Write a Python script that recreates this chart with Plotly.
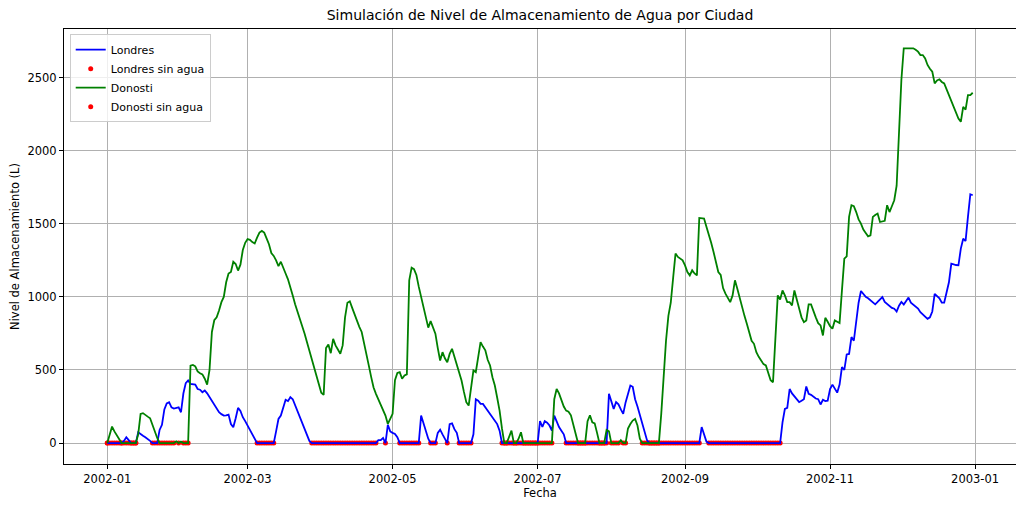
import pandas as pd
import plotly.graph_objects as go

fechas = pd.date_range("2002-01-01", periods=365, freq="D")

londres = [
    0, 0, 0, 0, 0, 0, 0, 15, 40, 20,
    0, 0, 0, 74, 60, 50, 40, 30, 15, 0,
    0, 0, 90, 125, 230, 272, 280, 245, 236, 240,
    245, 211, 339, 410, 428, 405, 400, 400, 370, 365,
    348, 360, 340, 315, 291, 265, 240, 211, 198, 188,
    190, 195, 130, 108, 170, 241, 220, 177, 150, 120,
    90, 60, 30, 0, 0, 0, 0, 0, 0, 0,
    0, 80, 165, 188, 240, 296, 287, 314, 300, 260,
    222, 180, 140, 100, 55, 15, 0, 0, 0, 0,
    0, 0, 0, 0, 0, 0, 0, 0, 0, 0,
    0, 0, 0, 0, 0, 0, 0, 0, 0, 0,
    0, 0, 0, 0, 20, 20, 35, 0, 125, 80,
    70, 63, 40, 0, 0, 0, 0, 0, 0, 0,
    0, 0, 188, 130, 70, 30, 0, 0, 0, 70,
    92, 60, 25, 0, 130, 135, 95, 70, 0, 0,
    0, 0, 0, 0, 60, 300, 290, 268, 268, 245,
    222, 205, 175, 150, 130, 85, 0, 0, 0, 0,
    0, 0, 0, 0, 0, 0, 0, 0, 0, 0,
    0, 0, 150, 110, 150, 140, 120, 85, 188, 150,
    110, 85, 60, 0, 0, 0, 0, 0, 0, 0,
    0, 0, 0, 0, 0, 0, 0, 0, 0, 0,
    0, 337, 280, 234, 280, 265, 230, 200, 278, 330,
    394, 385, 300, 250, 190, 140, 80, 20, 0, 0,
    0, 0, 0, 0, 0, 0, 0, 0, 0, 0,
    0, 0, 0, 0, 0, 0, 0, 0, 0, 0,
    110, 60, 10, 0, 0, 0, 0, 0, 0, 0,
    0, 0, 0, 0, 0, 0, 0, 0, 0, 0,
    0, 0, 0, 0, 0, 0, 0, 0, 0, 0,
    0, 0, 0, 0, 142, 234, 241, 370, 340, 318,
    302, 280, 290, 300, 387, 337, 330, 315, 305, 300,
    264, 296, 287, 290, 370, 400, 370, 345, 400, 519,
    500, 606, 610, 725, 700, 839, 960, 1040, 1020, 1000,
    990, 976, 960, 949, 965, 985, 999, 965, 950, 935,
    925, 919, 900, 940, 965, 948, 975, 995, 960, 945,
    930, 920, 895, 880, 860, 850, 860, 900, 1020, 1005,
    990, 960, 960, 1030, 1100, 1227, 1220, 1218, 1216, 1330,
    1398, 1382, 1547, 1702, 1695,
]

donosti = [
    0, 50, 113, 80, 51, 20, 0, 0, 0, 0,
    0, 0, 0, 60, 200, 205, 190, 181, 170, 120,
    80, 35, 0, 0, 0, 0, 0, 0, 0, 12,
    0, 10, 0, 0, 0, 530, 535, 525, 490, 478,
    470, 440, 400, 500, 760, 840, 860, 907, 964, 1000,
    1100, 1160, 1170, 1240, 1225, 1180, 1220, 1320, 1370, 1395,
    1390, 1375, 1365, 1405, 1440, 1451, 1440, 1400, 1360, 1300,
    1280, 1250, 1210, 1240, 1205, 1160, 1120, 1070, 1010, 950,
    900, 860, 800, 748, 690, 634, 560, 505, 460, 400,
    345, 330, 650, 675, 615, 713, 668, 640, 611, 668,
    860, 960, 970, 925, 880, 830, 795, 760, 690, 611,
    530, 451, 380, 337, 300, 268, 230, 188, 131, 170,
    200, 430, 480, 485, 440, 462, 470, 1113, 1200, 1190,
    1150, 1070, 1000, 940, 860, 790, 834, 790, 748, 650,
    565, 622, 580, 553, 610, 645, 590, 542, 470, 428,
    350, 280, 257, 370, 497, 485, 590, 690, 660, 634,
    570, 531, 450, 394, 310, 222, 100, 0, 0, 40,
    85, 0, 0, 30, 74, 0, 0, 0, 0, 0,
    0, 0, 0, 0, 0, 0, 0, 0, 300, 370,
    340, 290, 250, 222, 215, 190, 120, 50, 0, 0,
    0, 0, 150, 190, 142, 135, 70, 0, 0, 0,
    90, 80, 0, 0, 0, 0, 20, 0, 0, 100,
    130, 154, 165, 120, 30, 0, 0, 0, 0, 0,
    0, 0, 0, 200, 480, 700, 870, 960, 1130, 1296,
    1273, 1261, 1250, 1215, 1170, 1147, 1182, 1160, 1147, 1540,
    1540, 1536, 1480, 1432, 1370, 1307, 1240, 1170, 1150, 1060,
    1022, 990, 964, 1010, 1113, 1056, 990, 930, 870, 816,
    760, 700, 679, 622, 590, 565, 540, 531, 474, 430,
    416, 760, 1010, 982, 1044, 1010, 964, 964, 942, 1044,
    990, 920, 860, 827, 839, 949, 949, 896, 860, 820,
    805, 736, 857, 830, 800, 782, 839, 830, 821, 1044,
    1261, 1277, 1547, 1627, 1620, 1580, 1530, 1501, 1460, 1437,
    1414, 1420, 1547, 1560, 1570, 1512, 1515, 1520, 1627, 1580,
    1620, 1661, 1760, 2140, 2483, 2700, 2700, 2700, 2695, 2700,
    2690, 2677, 2654, 2654, 2631, 2586, 2560, 2540, 2460, 2480,
    2488, 2470, 2460, 2420, 2392, 2350, 2300, 2260, 2220, 2197,
    2300, 2280, 2380, 2380, 2396,
]

ciudades = ["Londres", "Donosti"]
colores = ["blue", "green"]

FONT = "DejaVu Sans, Verdana, sans-serif"

fig = go.Figure()
series = [londres, donosti]
for i, (nombre, vals, col) in enumerate(zip(ciudades, series, colores)):
    sx = [f for f, v in zip(fechas, vals) if v == 0]
    sy = [0 for v in vals if v == 0]
    fig.add_trace(go.Scatter(
        x=sx, y=sy, mode="markers", name=f"{nombre} sin agua",
        marker=dict(color="red", size=5, line=dict(width=0)),
        legendrank=2 * i + 2,
    ))
for i, (nombre, vals, col) in enumerate(zip(ciudades, series, colores)):
    fig.add_trace(go.Scatter(
        x=fechas, y=vals, mode="lines", name=nombre,
        line=dict(color=col, width=1.8),
        legendrank=2 * i + 1,
    ))

# The page body adds an 8px offset, so the figure is 1016x500.
fig.update_layout(
    width=1016, height=500,
    margin=dict(l=56, r=8, t=21, b=44),
    paper_bgcolor="white", plot_bgcolor="white",
    font=dict(family=FONT, size=11.5, color="black"),
    title=dict(
        text="Simulación de Nivel de Almacenamiento de Agua por Ciudad",
        x=0.5, xref="paper", y=1 - 7 / 500, yref="container",
        xanchor="center", yanchor="middle",
        font=dict(family=FONT, size=14, color="black"),
    ),
    showlegend=True,
    legend=dict(
        x=0.006, y=0.988, xanchor="left", yanchor="top",
        bgcolor="rgba(255,255,255,0.8)", bordercolor="#cccccc", borderwidth=1,
        font=dict(family=FONT, size=11, color="black"),
        tracegroupgap=0, itemwidth=30,
    ),
)

fig.update_xaxes(
    type="date", automargin=False,
    range=["2001-12-13 19:00", "2003-01-18 05:00"],
    tick0="2002-01-01", dtick="M2", tickformat="%Y-%m",
    showgrid=True, gridcolor="#b0b0b0", gridwidth=0.8,
    showline=True, linecolor="black", linewidth=1, mirror=True,
    ticks="outside", ticklen=4, tickwidth=1, tickcolor="black",
    tickfont=dict(family=FONT, size=11.5, color="black"),
    zeroline=False,
    title=dict(text="Fecha", standoff=4, font=dict(family=FONT, size=11.5, color="black")),
)
fig.update_yaxes(
    automargin=False,
    range=[-143, 2832],
    tick0=0, dtick=500,
    showgrid=True, gridcolor="#b0b0b0", gridwidth=0.8,
    showline=True, linecolor="black", linewidth=1, mirror=True,
    ticks="outside", ticklen=4, tickwidth=1, tickcolor="black",
    tickfont=dict(family=FONT, size=11.5, color="black"),
    zeroline=False,
    title=dict(text="Nivel de Almacenamiento (L)", standoff=6,
               font=dict(family=FONT, size=11.5, color="black")),
)

fig.write_html("out.html")
